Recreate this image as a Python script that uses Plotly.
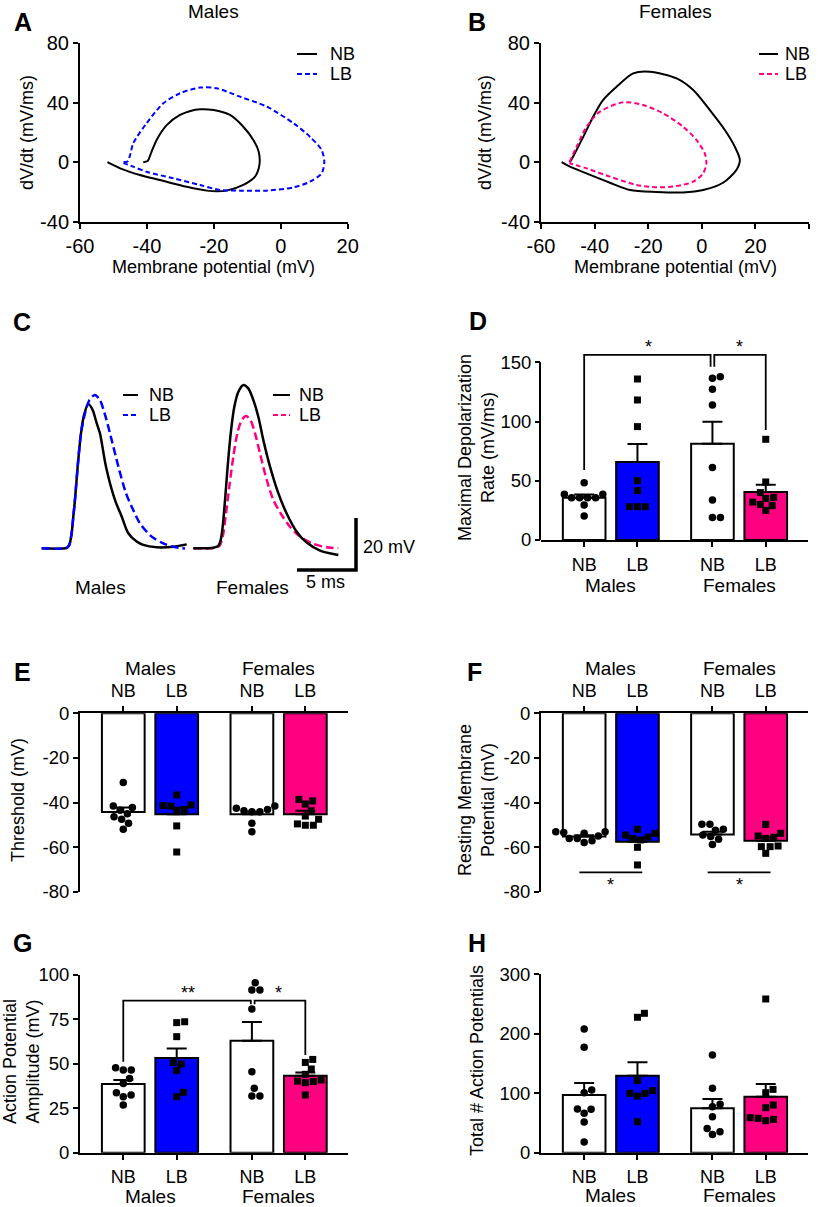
import math
import plotly.graph_objects as go

W, H = 820, 1207
FONT = "Liberation Sans, Arial, sans-serif"
BLUE = "#0000FF"
PINK = "#FF0080"

# ---------------- data ----------------
# Panel A (males) phase plots: membrane potential (mV) vs dV/dt (mV/ms)
A_NB_V = [-41.1, -39.8, -38.8, -37.1, -34.1, -30.1, -27.0, -24.1, -20.1, -15.2, -11.2, -8.2, -6.6, -6.4,
          -7.7, -11.2, -16.2, -19.0, -22.1, -28.1, -36.1, -42.1, -48.0, -51.8]
A_NB_DVDT = [0.0, 0.8, 6.0, 15.0, 25.0, 31.8, 34.5, 35.6, 35.1, 31.8, 23.9, 15.0, 7.0, -2.0,
             -9.7, -15.3, -19.1, -19.5, -19.1, -16.5, -12.0, -8.6, -4.1, 0.0]
A_LB_V = [-47.0, -45.8, -45.0, -44.1, -40.1, -35.1, -30.1, -24.1, -19.1, -12.2, -4.2, 3.8, 8.7, 12.2,
          13.0, 12.2, 8.7, 3.8, -4.2, -12.2, -18.2, -24.1, -32.1, -40.1, -44.1, -47.0]
A_LB_DVDT = [0.0, 0.5, 5.0, 12.7, 26.2, 39.6, 46.4, 50.2, 49.7, 44.1, 37.4, 26.2, 17.2, 8.2,
             0.4, -7.5, -13.1, -16.9, -19.1, -19.1, -18.7, -15.3, -10.8, -6.4, -3.0, -0.5]
# Panel B (females)
B_NB_V = [-49.2, -48.0, -44.2, -40.5, -36.8, -31.8, -25.6, -19.4, -9.4, -3.2, 3.0, 8.6, 12.3, 14.2,
          12.9, 7.9, 0.5, -7.0, -16.9, -26.8, -34.3, -43.0, -49.2, -52.3]
B_NB_DVDT = [0.0, 3.8, 17.2, 30.7, 41.9, 50.8, 59.8, 60.9, 56.4, 48.6, 35.1, 21.7, 10.5, 1.5,
             -5.2, -13.8, -18.7, -20.3, -20.0, -18.7, -13.8, -7.5, -3.0, 0.0]
B_LB_V = [-49.4, -46.7, -43.0, -38.0, -29.3, -21.9, -14.4, -7.0, -2.0, 1.1, 1.7, 0.5, -3.2, -9.4,
          -16.9, -24.3, -34.3, -43.0, -49.4]
B_LB_DVDT = [0.0, 10.5, 23.9, 34.0, 40.3, 38.5, 32.9, 23.9, 15.0, 6.0, -0.7, -7.5, -13.1, -16.0,
             -16.9, -15.3, -9.7, -4.1, -0.7]

# Panel C: representative action potentials, time (ms) vs voltage above baseline (mV)
C_M_NB_T = [0.99, 3.11, 3.33, 3.53, 3.67, 3.81, 4.04, 4.32, 4.58, 4.94, 5.31, 5.65, 5.93, 6.44, 7.20,
            7.77, 8.33, 9.04, 9.60, 10.73, 12.15, 13.28]
C_M_NB_V = [0.0, 0.2, 1.3, 5.8, 12.2, 18.6, 31.4, 44.2, 51.3, 55.5, 53.2, 48.1, 44.2, 31.4, 18.6,
            12.2, 5.8, 2.6, 1.3, 0.4, 0.6, 1.5]
C_M_LB_T = [0.99, 3.11, 3.33, 3.53, 3.67, 3.81, 4.04, 4.32, 4.66, 5.03, 5.51, 5.93, 6.36, 6.78, 7.49,
            8.14, 8.62, 9.32, 10.31, 11.30, 12.15, 13.14]
C_M_LB_V = [0.0, 0.2, 1.3, 5.8, 12.2, 18.6, 31.4, 44.2, 51.9, 57.0, 59.0, 57.0, 51.3, 44.2, 31.4,
            21.1, 16.0, 9.6, 4.5, 1.9, 0.6, -0.1]
C_F_NB_T = [13.84, 15.54, 15.96, 16.16, 16.33, 16.53, 16.75, 17.01, 17.32, 17.66, 18.08, 18.50, 18.93,
            19.35, 19.77, 20.34, 21.05, 21.75, 22.60, 23.45, 24.58, 26.13]
C_F_NB_V = [0.0, 0.2, 0.9, 3.2, 8.3, 18.6, 31.4, 44.2, 54.5, 60.2, 62.8, 61.5, 57.0, 50.6, 41.7,
            31.4, 21.1, 13.4, 6.4, 2.2, -0.9, -2.6]
C_F_LB_T = [13.84, 15.54, 16.05, 16.33, 16.61, 16.89, 17.23, 17.57, 17.94, 18.31, 18.70, 19.07, 19.49,
            20.06, 20.62, 21.33, 22.03, 22.88, 24.01, 25.14, 26.13]
C_F_LB_V = [0.0, 0.1, 0.9, 4.5, 13.4, 23.7, 35.2, 44.2, 49.3, 50.9, 49.1, 44.2, 36.5, 26.3, 18.6,
            12.8, 8.3, 4.5, 1.7, 0.4, 0.0]
SCALE_MS = 5
SCALE_MV = 20

GROUPS = ["NB", "LB", "NB", "LB"]
SEXES = ["Males", "Females"]

# Panel D: maximal depolarization rate (mV/ms)
D_MEAN = [35.7, 65.8, 81.3, 40.5]
D_SEM = [2.8, 15.2, 18.6, 6.2]
D_PTS = [[48.4, 38.6, 38.6, 35.7, 35.7, 35.7, 35.7, 29.6, 20.3],
         [135.9, 118.2, 95.7, 50.1, 41.7, 28.1, 28.1, 28.1],
         [137.9, 136.5, 127.2, 114.0, 61.1, 33.8, 18.9, 18.9],
         [85.0, 49.0, 40.0, 36.0, 35.0, 32.0, 30.0, 29.0, 25.0]]
# Panel E: threshold (mV)
E_MEAN = [-44.3, -45.3, -45.3, -45.3]
E_SEM = [2.1, 2.9, 1.2, 1.6]
E_PTS = [[-31.0, -41.6, -42.2, -43.5, -45.0, -46.4, -47.5, -49.3, -52.0],
         [-36.6, -41.1, -41.6, -41.4, -43.1, -44.1, -50.5, -62.2],
         [-42.6, -41.6, -43.1, -43.7, -44.1, -44.1, -49.3, -53.1],
         [-38.6, -39.3, -40.7, -43.7, -46.1, -47.5, -49.6, -50.2, -50.2]]
# Panel F: resting membrane potential (mV)
F_MEAN = [-55.3, -57.6, -54.3, -57.1]
F_SEM = [0.6, 1.5, 1.2, 1.4]
F_PTS = [[-53.1, -53.8, -53.5, -53.1, -55.0, -56.1, -57.9, -57.2, -56.1],
         [-52.0, -53.8, -54.6, -55.5, -56.1, -56.8, -60.1, -68.0],
         [-49.8, -49.8, -52.0, -52.4, -54.6, -55.3, -56.5, -58.8],
         [-49.8, -53.8, -55.6, -56.1, -55.0, -59.8, -59.8, -59.5, -62.8]]
# Panel G: action potential amplitude (mV)
G_MEAN = [38.6, 53.3, 63.0, 43.3]
G_SEM = [2.3, 5.4, 10.5, 1.9]
G_PTS = [[46.5, 46.5, 47.8, 41.8, 39.0, 33.8, 31.5, 32.5, 26.8],
         [73.7, 73.2, 65.3, 49.9, 50.7, 46.2, 34.0, 31.5],
         [91.6, 91.6, 95.7, 80.9, 45.6, 36.2, 31.9, 31.9],
         [52.5, 50.8, 47.1, 44.1, 40.9, 40.0, 39.4, 40.3, 32.5]]
# Panel H: total number of action potentials
H_MEAN = [97.0, 129.5, 74.6, 94.2]
H_SEM = [20.2, 22.4, 15.7, 21.3]
H_PTS = [[208.0, 177.2, 105.4, 100.9, 73.5, 72.9, 66.2, 51.6, 17.9],
         [234.4, 227.7, 121.1, 104.3, 99.8, 95.3, 99.8, 52.1],
         [164.3, 108.2, 77.4, 81.3, 60.6, 40.9, 35.3, 30.8],
         [258.5, 106.5, 100.9, 80.2, 75.7, 57.8, 53.8, 56.1, 58.9]]

# ---------------- layout helpers ----------------
POS = [0, 1, 2.407, 3.407]
XR = [-0.81, 4.2]
FILLS = ["white", BLUE, "white", PINK]
LEFT = (80, 347.7)
RIGHT = (541, 808)


def px(x):
    return x / W


def py(y):
    return 1 - y / H


def xd(p0, p1):
    return [px(p0), px(p1)]


def yd(top, bottom):
    return [py(bottom), py(top)]


fig = go.Figure()
annotations = []
shapes = []


def ann(text, x, y, size=18, xanchor="center", yanchor="middle", bold=False, xref="paper", yref="paper",
        angle=0, yshift=0):
    if xref == "paper":
        x = px(x)
    if yref == "paper":
        y = py(y)
    annotations.append(dict(text=("<b>%s</b>" % text) if bold else text, x=x, y=y, xref=xref, yref=yref,
                            showarrow=False, xanchor=xanchor, yanchor=yanchor, textangle=angle, yshift=yshift,
                            font=dict(family=FONT, size=size, color="black")))


def axis_common(size):
    return dict(showgrid=False, zeroline=False, ticks="outside", ticklen=5, tickwidth=2, tickcolor="black",
                linecolor="black", linewidth=2, automargin=False,
                tickfont=dict(family=FONT, size=size, color="black"))


def fmt(v):
    return str(int(v)) if float(v).is_integer() else str(v)


layout_axes = {}


def set_axes(n, xdom, ydom, xaxis, yaxis, size=18.5):
    s = "" if n == 1 else str(n)
    xa = axis_common(size)
    xa.update(domain=xdom, anchor="y" + s)
    xa.update(xaxis)
    ya = axis_common(size)
    ya.update(domain=ydom, anchor="x" + s)
    ya.update(yaxis)
    layout_axes["xaxis" + s] = xa
    layout_axes["yaxis" + s] = ya
    return "x" + s, "y" + s


# ---------------- Panels A & B ----------------
def phase_panel(n, xcols, xr, xt, curves, legend_px, title, title_px):
    xa, ya = set_axes(n, xd(*xcols), yd(43.3, 221.7),
                      dict(range=xr, tickvals=xt, ticktext=[fmt(v) for v in xt], showline=True),
                      dict(range=[-40, 80], tickvals=[-40, 0, 40, 80], ticktext=["-40", "0", "40", "80"],
                           showline=True), size=20)
    for (xs, ys, color, dash) in curves:
        fig.add_trace(go.Scatter(x=xs, y=ys, mode="lines", xaxis=xa, yaxis=ya, showlegend=False,
                                 line=dict(color=color, width=2, dash=dash, shape="spline", smoothing=0.8)))
    lx0, lx1, tx = legend_px
    for (name, color, dash), yy in zip([("NB", "black", "solid"), ("LB", curves[1][2], "5px,3px")], [54, 74]):
        shapes.append(dict(type="line", xref="paper", yref="paper", x0=px(lx0), x1=px(lx1), y0=py(yy), y1=py(yy),
                           line=dict(color=color, width=2, dash=dash)))
        ann(name, tx, yy, size=18, xanchor="left")
    ann(title, title_px, 11, size=19)
    ann("Membrane potential (mV)", title_px, 267, size=18)


phase_panel(1, LEFT, [-60, 20], [-60, -40, -20, 0, 20],
            [(A_NB_V, A_NB_DVDT, "black", "solid"), (A_LB_V, A_LB_DVDT, BLUE, "5px,3px")],
            (297, 317, 328), "Males", 213)
ann("dV/dt (mV/ms)", 27, 133, size=18, angle=-90)
phase_panel(2, (541, 809), [-60, 40], [-60, -40, -20, 0, 20, 40],
            [(B_NB_V, B_NB_DVDT, "black", "solid"), (B_LB_V, B_LB_DVDT, PINK, "5px,3px")],
            (759, 778, 783), "Females", 675)
ann("dV/dt (mV/ms)", 485, 133, size=18, angle=-90)

# ---------------- Panel C ----------------
C_PPX = 11.8  # px per ms
C_PPY = 2.6   # px per mV
C_X0, C_X1, C_TOP, C_BOT, C_BASE = 30, 370, 380, 600, 548.3
xa3, ya3 = set_axes(3, xd(C_X0, C_X1), yd(C_TOP, C_BOT),
                    dict(visible=False, range=[0, (C_X1 - C_X0) / C_PPX]),
                    dict(visible=False, range=[(C_BASE - C_BOT) / C_PPY, (C_BASE - C_TOP) / C_PPY]))
for xs, ys, color, dash in [(C_M_NB_T, C_M_NB_V, "black", "solid"), (C_M_LB_T, C_M_LB_V, BLUE, "8px,4px"),
                            (C_F_LB_T, C_F_LB_V, PINK, "8px,4px"), (C_F_NB_T, C_F_NB_V, "black", "solid")]:
    fig.add_trace(go.Scatter(x=xs, y=ys, mode="lines", xaxis=xa3, yaxis=ya3, showlegend=False,
                             line=dict(color=color, width=2.5, dash=dash, shape="spline", smoothing=0.8)))
# scale bar
sb_x = (356 - C_X0) / C_PPX
sb_y = (C_BASE - 570) / C_PPY
shapes.append(dict(type="path", xref=xa3, yref=ya3,
                   path="M %f,%f L %f,%f L %f,%f" % (sb_x - SCALE_MS, sb_y, sb_x, sb_y, sb_x, sb_y + SCALE_MV),
                   line=dict(color="black", width=3.5)))
ann("%d mV" % SCALE_MV, 361, 547, size=18, xanchor="left")
ann("%d ms" % SCALE_MS, 325, 582, size=18)
ann("Males", 100, 588, size=19)
ann("Females", 252, 588, size=19)
for (lx0, lx1, tx, color) in [(123, 138, 147, BLUE), (273, 290, 297, PINK)]:
    shapes.append(dict(type="line", xref="paper", yref="paper", x0=px(lx0), x1=px(lx1), y0=py(395), y1=py(395),
                       line=dict(color="black", width=2)))
    shapes.append(dict(type="line", xref="paper", yref="paper", x0=px(lx0), x1=px(lx1), y0=py(415), y1=py(415),
                       line=dict(color=color, width=2, dash="5px,3px")))
    ann("NB", tx, 395, size=18, xanchor="left")
    ann("LB", tx, 415, size=18, xanchor="left")


# ---------------- bar panels ----------------
def swarm(values, ppu, d=8.0):
    order = sorted(range(len(values)), key=lambda i: values[i])
    placed = []
    offs = [0.0] * len(values)
    for i in order:
        y = values[i] * ppu
        cands = [0.0]
        for (ox, oy) in placed:
            dyv = abs(oy - y)
            if dyv < d:
                dxv = math.sqrt(d * d - dyv * dyv)
                cands += [ox + dxv, ox - dxv]
        cands.sort(key=lambda c: (round(abs(c), 6), -c))
        for c in cands:
            if all((c - ox) ** 2 + (y - oy) ** 2 >= d * d - 1e-6 for (ox, oy) in placed):
                offs[i] = c
                break
        placed.append((offs[i], y))
    return offs


def bar_panel(n, xcols, ytop, ybot, yrange, ytv, means, sems, pts, side="bottom", yline=True):
    xa, ya = set_axes(n, xd(*xcols), yd(ytop, ybot),
                      dict(range=XR, tickvals=POS, ticktext=GROUPS, showline=True, side=side,
                           ticklabelstandoff=2, tickfont=dict(family=FONT, size=18, color="black")),
                      dict(range=yrange, tickvals=ytv, ticktext=[fmt(v) for v in ytv], showline=yline))
    fig.add_trace(go.Bar(x=POS, y=means, width=0.8, xaxis=xa, yaxis=ya, showlegend=False,
                         marker=dict(color=FILLS, line=dict(color="black", width=2)),
                         error_y=dict(type="data", array=sems, arrayminus=[0] * 4, symmetric=False,
                                      color="black", thickness=2, width=10)))
    ppu_y = (ybot - ytop) / (yrange[1] - yrange[0])
    ppu_x = (xcols[1] - xcols[0]) / (XR[1] - XR[0])
    for k, sym, size in [(0, "circle", 7.5), (1, "square", 7)]:
        xs, ys = [], []
        for i in range(k, 4, 2):
            offs = swarm(pts[i], ppu_y)
            xs += [POS[i] + o / ppu_x for o in offs]
            ys += pts[i]
        fig.add_trace(go.Scatter(x=xs, y=ys, mode="markers", xaxis=xa, yaxis=ya, showlegend=False,
                                 cliponaxis=False, marker=dict(symbol=sym, size=size, color="black",
                                                               line=dict(width=0))))
    return xa, ya


def group_labels(xa, y_px):
    for j, sname in enumerate(SEXES):
        ann(sname, (POS[2 * j] + POS[2 * j + 1]) / 2, y_px, size=19, xref=xa, yref="paper")


# D
xa4, ya4 = bar_panel(4, RIGHT, 338.6, 540, [0, 170], [0, 50, 100, 150], D_MEAN, D_SEM, D_PTS, yline=False)
shapes.append(dict(type="line", xref="paper", yref=ya4, x0=px(540), x1=px(540), y0=0, y1=150,
                   line=dict(color="black", width=2)))
group_labels(xa4, 585)
ann("Maximal Depolarization<br>Rate (mV/ms)", 476, 447, size=18, angle=-90)
c = POS[2]
shapes.append(dict(type="path", xref=xa4, yref=ya4,
                   path="M %f,59 L %f,156.2 L %f,156.2 L %f,146.3" % (POS[0], POS[0], c - 0.035, c - 0.035),
                   line=dict(color="black", width=1.8)))
shapes.append(dict(type="path", xref=xa4, yref=ya4,
                   path="M %f,146.3 L %f,156.2 L %f,156.2 L %f,92.8" % (c + 0.035, c + 0.035, POS[3], POS[3]),
                   line=dict(color="black", width=1.8)))
ann("*", (POS[0] + c) / 2, 156.2, size=18, xref=xa4, yref=ya4, yanchor="bottom", yshift=-4)
ann("*", (c + POS[3]) / 2, 156.2, size=18, xref=xa4, yref=ya4, yanchor="bottom", yshift=-4)

# E
xa5, ya5 = bar_panel(5, LEFT, 713.3, 891.7, [-80, 0], [0, -20, -40, -60, -80], E_MEAN, E_SEM, E_PTS, side="top")
group_labels(xa5, 668)
ann("Threshold (mV)", 18, 800, size=18, angle=-90)

# F
xa6, ya6 = bar_panel(6, RIGHT, 713.3, 891.7, [-80, 0], [0, -20, -40, -60, -80], F_MEAN, F_SEM, F_PTS, side="top")
group_labels(xa6, 668)
ann("Resting Membrane<br>Potential (mV)", 476, 800, size=18, angle=-90)
for (a, b) in [(POS[0], POS[1]), (POS[2], POS[3])]:
    mid = (a + b) / 2
    shapes.append(dict(type="line", xref=xa6, yref=ya6, x0=mid - 0.59, x1=mid + 0.59, y0=-71.3, y1=-71.3,
                       line=dict(color="black", width=1.8)))
    ann("*", mid, -71.3, size=18, xref=xa6, yref=ya6, yanchor="top", yshift=-1)

# G
xa7, ya7 = bar_panel(7, LEFT, 975, 1152.7, [0, 100], [0, 25, 50, 75, 100], G_MEAN, G_SEM, G_PTS)
group_labels(xa7, 1196)
ann("Action Potential<br>Amplitude (mV)", 21, 1062, size=18, angle=-90)
shapes.append(dict(type="path", xref=xa7, yref=ya7,
                   path="M %f,51.2 L %f,85.6 L %f,85.6 L %f,83.5" % (POS[0], POS[0], c - 0.02, c - 0.02),
                   line=dict(color="black", width=1.8)))
shapes.append(dict(type="path", xref=xa7, yref=ya7,
                   path="M %f,83.5 L %f,85.6 L %f,85.6 L %f,55" % (c + 0.05, c + 0.05, POS[3], POS[3]),
                   line=dict(color="black", width=1.8)))
ann("**", (POS[0] + c) / 2, 85.6, size=18, xref=xa7, yref=ya7, yanchor="bottom", yshift=-4)
ann("*", (c + POS[3]) / 2, 85.6, size=18, xref=xa7, yref=ya7, yanchor="bottom", yshift=-4)

# H
xa8, ya8 = bar_panel(8, RIGHT, 974.3, 1152.7, [0, 300], [0, 100, 200, 300], H_MEAN, H_SEM, H_PTS)
group_labels(xa8, 1195)
ann("Total # Action Potentials", 477, 1060, size=18, angle=-90)

# panel letters
for letter, x, y in [("A", 23, 22), ("B", 477, 22), ("C", 22, 322), ("D", 478, 321), ("E", 22, 672),
                     ("F", 475, 672), ("G", 22, 943), ("H", 477, 943)]:
    ann(letter, x, y, size=25, bold=True)

fig.update_layout(template="none", width=W, height=H, autosize=False,
                  margin=dict(l=0, r=0, t=0, b=0, pad=0, autoexpand=False),
                  paper_bgcolor="white", plot_bgcolor="white", showlegend=False,
                  font=dict(family=FONT, color="black"), annotations=annotations, shapes=shapes,
                  **layout_axes)
# remove the browser's default 8px body margin so the 820x1207 figure fills the window exactly
fig.write_html("out.html", config={"displayModeBar": False, "staticPlot": True},
               post_script="document.body.style.margin='0px';document.body.style.overflow='hidden';")
